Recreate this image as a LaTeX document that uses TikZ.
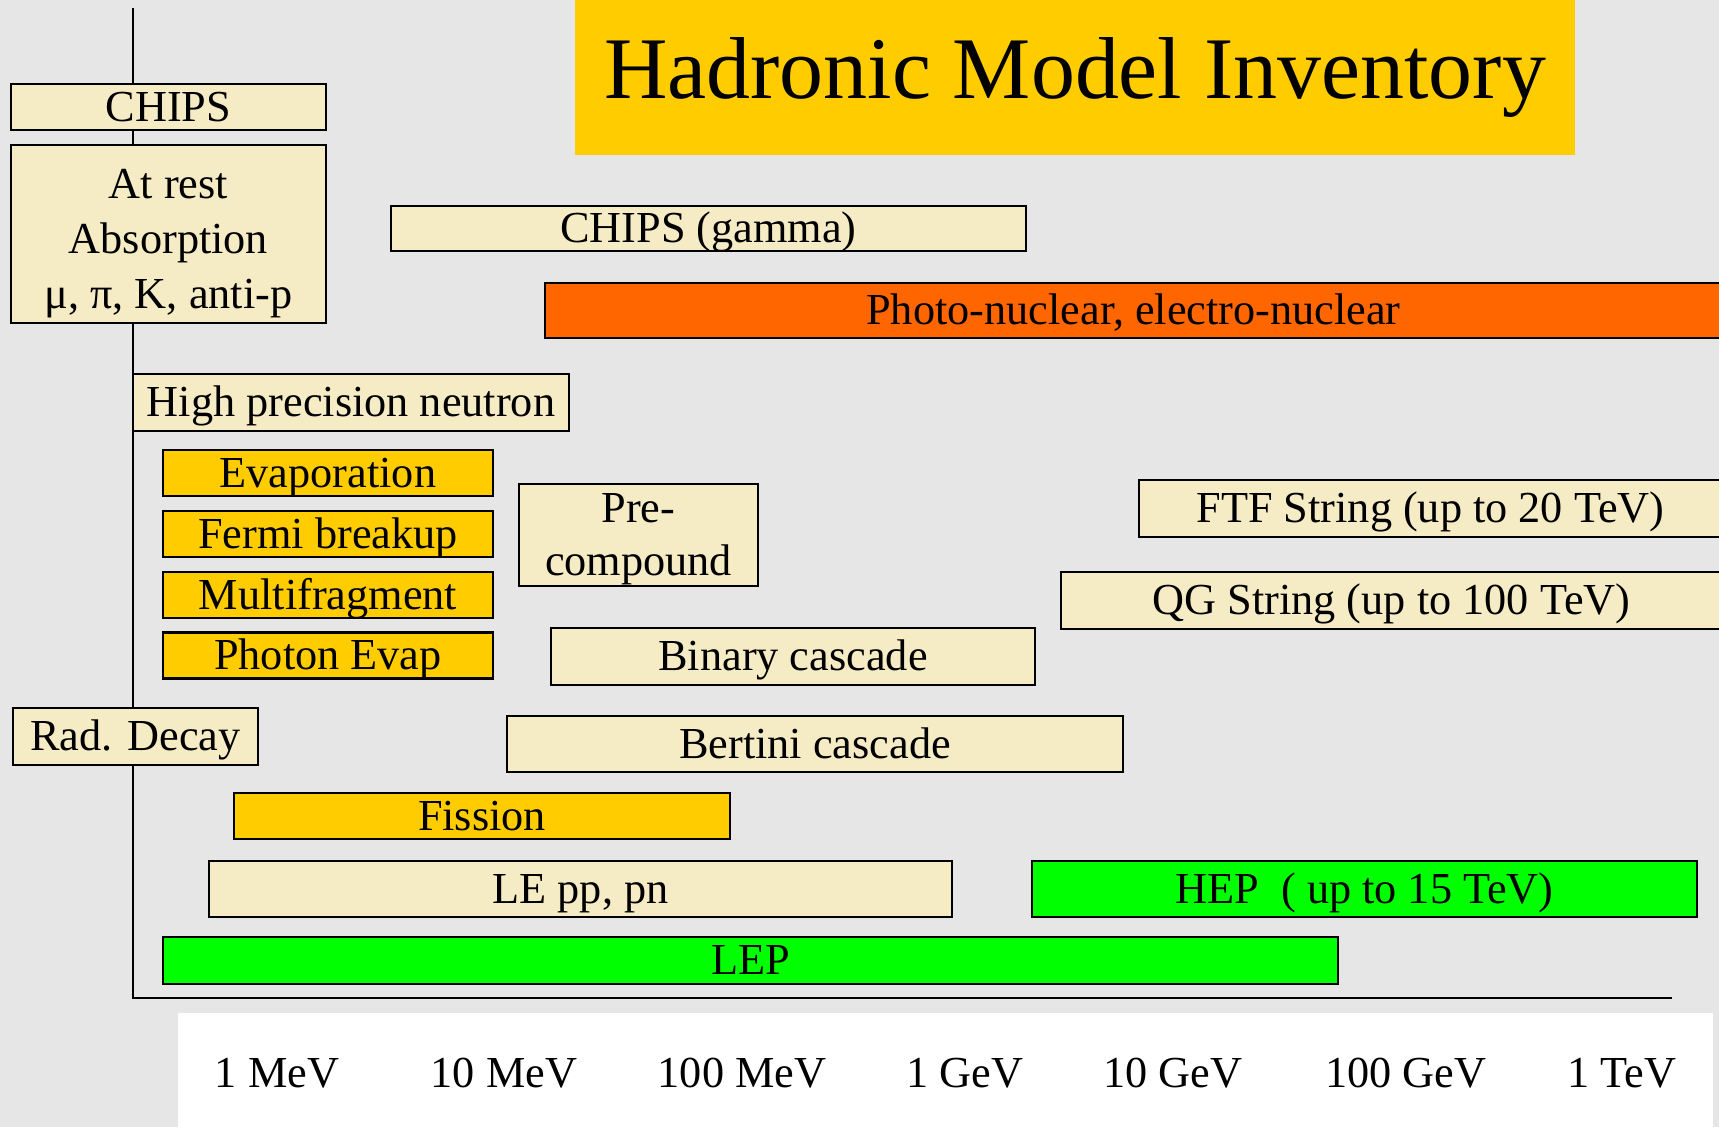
\documentclass[tikz,border=0pt]{standalone}
\usepackage{fontspec}
\setmainfont{Liberation Serif}
\usepackage{tikz}
\usetikzlibrary{positioning}
\definecolor{Brume}{RGB}{230,230,230}
\definecolor{Sable}{RGB}{245,235,196}
\definecolor{Soleil}{RGB}{255,204,0}
\definecolor{Brique}{RGB}{255,102,0}
\definecolor{Pomme}{RGB}{0,255,0}

\begin{document}
\begin{tikzpicture}[x=0.1mm,y=-0.1mm,
  model/.style={draw=black,line width=0.6pt,inner sep=0pt,align=center,font=\fontsize{12.6}{15.6}\selectfont},
  bar/.style={model,text height=0.92em,text depth=0.1em},
  tick/.style={anchor=base,font=\fontsize{12.6}{15.6}\selectfont}]
\useasboundingbox (0,0) rectangle (1719,1127);
\fill[Brume] (0,0) rectangle (1719,1127);
\fill[white] (178,1013) rectangle (1713,1127);
%
% axes
\coordinate (top) at (133,8);
\coordinate (origin) at (133,998);
\coordinate (tail) at (1672,998);
\draw[line width=0.6pt] (top) -- (origin) -- (tail);
%
% title
\node[fill=Soleil,minimum width=100mm,minimum height=15.5mm,inner sep=0pt,font=\fontsize{25}{30}\selectfont] (title) at (1075,77.5) {Hadronic Model Inventory};
%
% models
\node[bar,fill=Sable,minimum width=31.5mm,minimum height=4.6mm] (chips) at (168.5,107) {CHIPS};
\node[model,fill=Sable,minimum width=31.5mm,minimum height=17.8mm] (atrest) at (168.5,234) {\rule{0pt}{4.8mm}At rest\\Absorption\\μ, π, K, anti-p};
\node[bar,fill=Sable,minimum width=63.5mm,minimum height=4.5mm] (chipsgamma) at (708.5,228.5) {CHIPS (gamma)};
\node[bar,fill=Brique,minimum width=117.7mm,minimum height=5.5mm] (photonuc) at (1133.5,310.5) {Photo-nuclear, electro-nuclear};
\node[bar,fill=Sable,minimum width=43.6mm,minimum height=5.7mm] (hpneutron) at (351,402.5) {High precision neutron};
\node[bar,fill=Soleil,minimum width=33mm,minimum height=4.6mm] (evap) at (328,473) {Evaporation};
\node[bar,fill=Soleil,minimum width=33mm,minimum height=4.6mm] (fermi) at (328,534) {Fermi breakup};
\node[bar,fill=Soleil,minimum width=33mm,minimum height=4.6mm] (multifrag) at (328,595) {Multifragment};
\node[bar,fill=Soleil,minimum width=33mm,minimum height=4.6mm] (photonevap) at (328,655.5) {Photon Evap};
\node[model,fill=Sable,minimum width=23.9mm,minimum height=10.2mm,font=\fontsize{12.6}{15}\selectfont] (precomp) at (638.5,535) {\rule{0pt}{3.8mm}Pre-\\compound};
\node[bar,fill=Sable,minimum width=58.3mm,minimum height=5.7mm] (ftf) at (1430.5,508.5) {FTF String (up to 20 TeV)};
\node[bar,fill=Sable,minimum width=66.1mm,minimum height=5.7mm] (qgs) at (1391.5,600.5) {QG String (up to 100 TeV)};
\node[bar,fill=Sable,minimum width=48.4mm,minimum height=5.7mm] (binary) at (793,656.5) {Binary cascade};
\node[bar,fill=Sable,minimum width=24.5mm,minimum height=5.7mm] (raddecay) at (135.5,736.5) {Rad. Decay};
\node[bar,fill=Sable,minimum width=61.6mm,minimum height=5.6mm] (bertini) at (815,744) {Bertini cascade};
\node[bar,fill=Soleil,minimum width=49.6mm,minimum height=4.6mm] (fission) at (482,816) {Fission};
\node[bar,fill=Sable,minimum width=74.3mm,minimum height=5.6mm] (lepp) at (580.5,889) {LE pp, pn};
\node[bar,fill=Pomme,minimum width=66.5mm,minimum height=5.6mm] (hep) at (1364.5,889) {HEP\ \ ( up to 15 TeV)};
\node[bar,fill=Pomme,minimum width=117.5mm,minimum height=4.7mm] (lep) at (750.5,960.5) {LEP};
%
% energy scale
\node[tick] (mev1) at (277,1087) {1 MeV};
\node[tick] (mev10) at (504,1087) {10 MeV};
\node[tick] (mev100) at (742,1087) {100 MeV};
\node[tick] (gev1) at (965,1087) {1 GeV};
\node[tick] (gev10) at (1173,1087) {10 GeV};
\node[tick] (gev100) at (1406,1087) {100 GeV};
\node[tick] (tev1) at (1622,1087) {1 TeV};
%
\end{tikzpicture}
\end{document}
